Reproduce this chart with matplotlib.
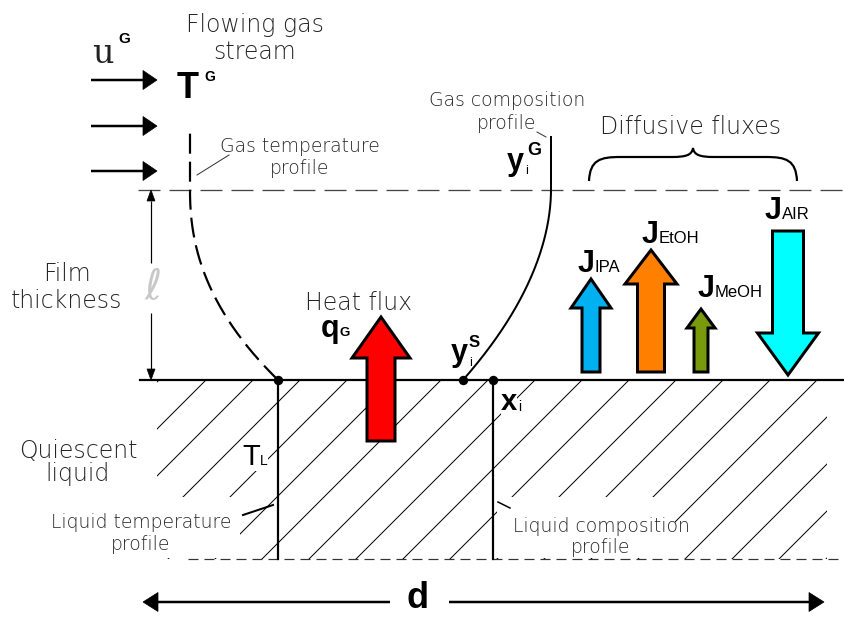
import numpy as np
import matplotlib
matplotlib.use('Agg')
import matplotlib.pyplot as plt
from matplotlib.patches import Polygon, Rectangle, PathPatch
from matplotlib.path import Path

plt.rcParams['lines.scale_dashes'] = False

# --- diagram data (pixel units of the 844x617 canvas, y pointing down) ---
W, H = 844, 617
y_film_top = 190          # outer edge of the gas film
y_interface = 380         # gas / liquid interface
y_liquid_bottom = 559

# diffusive fluxes: name, x position, arrow length (+ up, - down), colours
flux_names = ['IPA', 'EtOH', 'MeOH', 'AIR']
flux_x = [591, 651, 701, 788]
flux_len = [93, 122, 63, -144]
flux_shaft = [18, 27, 14, 31]
flux_head_w = [40, 52, 28, 61]
flux_head_len = [29, 34, 19, 42]
flux_colors = ['#00b0f0', '#ff8000', '#789a0c', '#00ffff']
flux_label_x = [578, 642, 698, 765]
flux_label_y = [272, 243, 297, 219]

# heat flux
heat_x, heat_len = 381, 124
heat_shaft, heat_head_w, heat_head_len = 28, 58, 41

# gas inlet arrows (u^G)
inlet_y = [80, 126, 171]

# profiles: top x, interface x, exponent of the curve
gas_T_profile = (190, 278, 2.2)
gas_y_profile = (551, 463, 1.9)
x_liquid_T = 278
x_liquid_comp = 493

# parts of the hatching left blank behind the labels (x0, x1, y0, y1)
hatch_gaps = [(157, 240, 497, 558), (497, 675, 497, 558)]

CAD = dict(family='DejaVu Sans', fontweight='light', color='#262626')
BOLD = dict(family='Liberation Sans', fontweight='bold', color='black')
REG = dict(family='Liberation Sans', color='black')
MASK = dict(facecolor='white', edgecolor='none', pad=0)


def pt(px):
    # pixels -> points at 100 dpi
    return px * 0.72


def block_arrow(ax, x, base, length, shaft, head_w, head_len, color):
    d = -1 if length > 0 else 1
    tip = base + d * abs(length)
    neck = tip - d * head_len
    pts = [(x - shaft / 2, base), (x - shaft / 2, neck), (x - head_w / 2, neck),
           (x, tip), (x + head_w / 2, neck), (x + shaft / 2, neck), (x + shaft / 2, base)]
    ax.add_patch(Polygon(pts, closed=True, facecolor=color, edgecolor='black',
                         lw=pt(3), joinstyle='miter', zorder=6))


def line_arrow(ax, x0, y0, x1, y1, lw, head_len, head_w, color='black'):
    v = np.array([x1 - x0, y1 - y0], dtype=float)
    u = v / np.hypot(*v)
    n = np.array([-u[1], u[0]])
    base = np.array([x1, y1]) - u * head_len
    ax.plot([x0, base[0]], [y0, base[1]], color=color, lw=lw, solid_capstyle='butt', zorder=5)
    tri = [tuple(base + n * head_w / 2), (x1, y1), tuple(base - n * head_w / 2)]
    ax.add_patch(Polygon(tri, closed=True, facecolor=color, edgecolor=color, lw=0.5, zorder=5))


def profile(x_top, x_int, p, y_start):
    u = np.linspace(0, 1, 200)
    y = y_interface - u * (y_interface - y_film_top)
    x = x_top + (x_int - x_top) * (1 - u) ** p
    x = np.append(x, x_top)
    y = np.append(y, y_start)
    return x, y


fig = plt.figure(figsize=(W / 100, H / 100), dpi=100)
ax = fig.add_axes([0, 0, 1, 1])
ax.set_xlim(0, W)
ax.set_ylim(H, 0)
ax.axis('off')

# hatching of the liquid
clip = Rectangle((157, y_interface), 827 - 157, y_liquid_bottom - y_interface, transform=ax.transData)
depth = y_liquid_bottom - y_interface
for c in np.arange(159, 827 + depth + 47, 47):
    ln, = ax.plot([c, c - depth], [y_interface, y_liquid_bottom], color='black', lw=pt(1), zorder=1)
    ln.set_clip_path(clip)
for x0, x1, y0, y1 in hatch_gaps:
    ax.add_patch(Rectangle((x0, y0), x1 - x0, y1 - y0, facecolor='white', edgecolor='none', zorder=1.5))

# film boundaries
ax.plot([138, W], [y_film_top, y_film_top], color='#444444', lw=pt(1.3), dashes=(pt(22), pt(9)), zorder=2)
ax.plot([140, W], [y_interface, y_interface], color='black', lw=pt(2.2), zorder=4)
ax.plot([188, W], [y_liquid_bottom, y_liquid_bottom], color='#333333', lw=pt(1.2),
        dashes=(pt(10), pt(6)), zorder=2)

# gas profiles
xs, ys = profile(*gas_T_profile, 133)
ax.plot(xs, ys, color='black', lw=pt(2.2), dashes=(pt(20), pt(8)), zorder=4)
xs, ys = profile(*gas_y_profile, 137)
ax.plot(xs, ys, color='black', lw=pt(2), zorder=4)

# liquid profiles
ax.plot([x_liquid_T, x_liquid_T], [y_interface, y_liquid_bottom], color='black', lw=pt(2.2), zorder=4)
ax.plot([x_liquid_comp, x_liquid_comp], [y_interface, y_liquid_bottom], color='black', lw=pt(2.2), zorder=4)
ax.plot([gas_T_profile[1], gas_y_profile[1], x_liquid_comp], [y_interface] * 3, 'o',
        color='black', ms=pt(8), zorder=7)

# leader lines
ax.plot([197, 229], [175, 155], color='#333333', lw=pt(1), zorder=3)
ax.plot([537, 546], [132, 137], color='#333333', lw=pt(1), zorder=3)
ax.plot([243, 273], [515, 505], color='black', lw=pt(2), zorder=4)
ax.plot([498, 510], [502, 508], color='black', lw=pt(1.5), zorder=4)

# inlet arrows
for y in inlet_y:
    line_arrow(ax, 91, y, 157, y, pt(2.5), 14, 19)

# film thickness dimension
line_arrow(ax, 151, 263, 151, y_film_top, pt(1.2), 11, 8)
line_arrow(ax, 151, 313, 151, y_interface, pt(1.2), 11, 8)
ax.text(153, 287, '\u2113', fontsize=30, family=['DejaVu Sans', 'Noto Sans'],
        color='#c8c8c8', ha='center', va='center')

# width d
line_arrow(ax, 390, 602, 143, 602, pt(2.5), 15, 19)
line_arrow(ax, 449, 602, 824, 602, pt(2.5), 15, 19)
ax.text(418, 608, 'd', fontsize=26, ha='center', va='baseline', **BOLD)

# heat flux and diffusive fluxes
block_arrow(ax, heat_x, 441, heat_len, heat_shaft, heat_head_w, heat_head_len, '#ff0000')
for i in range(len(flux_names)):
    base = 372 if flux_len[i] > 0 else 231
    block_arrow(ax, flux_x[i], base, flux_len[i], flux_shaft[i], flux_head_w[i],
                flux_head_len[i], flux_colors[i])
    ax.text(flux_label_x[i], flux_label_y[i], 'J', fontsize=22, ha='left', va='baseline', **BOLD)
    ax.text(flux_label_x[i] + 17, flux_label_y[i], flux_names[i], fontsize=12,
            ha='left', va='baseline', **REG)

# brace over the fluxes
verts = [(589, 181), (590, 160), (600, 157), (620, 157), (672, 157),
         (686, 157), (692, 155), (693, 148),
         (694, 155), (700, 157), (714, 157), (766, 157),
         (786, 157), (796, 160), (797, 181)]
codes = [Path.MOVETO, Path.CURVE4, Path.CURVE4, Path.CURVE4, Path.LINETO,
         Path.CURVE4, Path.CURVE4, Path.CURVE4,
         Path.CURVE4, Path.CURVE4, Path.CURVE4, Path.LINETO,
         Path.CURVE4, Path.CURVE4, Path.CURVE4]
ax.add_patch(PathPatch(Path(verts, codes), facecolor='none', edgecolor='black', lw=pt(2.2)))

# symbols
ax.text(92, 63, 'u', fontsize=24, family='DejaVu Serif', color='#222222', va='baseline')
ax.text(118, 43, 'G', fontsize=11, va='baseline', **BOLD)
ax.text(177, 98, 'T', fontsize=26, va='baseline', **BOLD)
ax.text(204, 81, 'G', fontsize=10, va='baseline', **BOLD)
ax.text(321, 337, 'q', fontsize=22, va='baseline', **BOLD)
ax.text(340, 336, 'G', fontsize=9.5, va='baseline', **BOLD)
ax.text(507, 170, 'y', fontsize=22, va='baseline', **BOLD)
ax.text(527, 155, 'G', fontsize=13, va='baseline', **BOLD)
ax.text(525, 174, 'i', fontsize=9, va='baseline', **REG)
ax.text(451, 361, 'y', fontsize=22, va='baseline', **BOLD)
ax.text(469, 347, 'S', fontsize=12, va='baseline', **BOLD)
ax.text(469, 366, 'i', fontsize=9, va='baseline', **REG)
ax.text(501, 410, 'x', fontsize=21, va='baseline', zorder=5, bbox=MASK, **BOLD)
ax.text(518, 411, 'i', fontsize=10, va='baseline', zorder=6, **REG)
ax.text(242, 465, 'T', fontsize=21, va='baseline', zorder=5, bbox=MASK, **REG)
ax.text(260, 465, 'L', fontsize=10, va='baseline', zorder=6, bbox=MASK, **REG)

# descriptive labels
big = 17
small = 13.5
ax.text(255, 32, 'Flowing gas', fontsize=big, ha='center', va='baseline', **CAD)
ax.text(255, 59, 'stream', fontsize=big, ha='center', va='baseline', **CAD)
ax.text(300, 152, 'Gas temperature', fontsize=small, ha='center', va='baseline', **CAD)
ax.text(300, 174, 'profile', fontsize=small, ha='center', va='baseline', **CAD)
ax.text(507, 106, 'Gas composition', fontsize=small, ha='center', va='baseline', **CAD)
ax.text(507, 129, 'profile', fontsize=small, ha='center', va='baseline', **CAD)
ax.text(691, 134, 'Diffusive fluxes', fontsize=big, ha='center', va='baseline', **CAD)
ax.text(67, 281, 'Film', fontsize=big, ha='center', va='baseline', **CAD)
ax.text(67, 308, 'thickness', fontsize=big, ha='center', va='baseline', **CAD)
ax.text(359, 310, 'Heat flux', fontsize=big, ha='center', va='baseline', **CAD)
ax.text(78, 458, 'Quiescent', fontsize=big, ha='center', va='baseline', **CAD)
ax.text(78, 481, 'liquid', fontsize=big, ha='center', va='baseline', **CAD)
ax.text(141, 528, 'Liquid temperature', fontsize=small, ha='center', va='baseline', zorder=3, **CAD)
ax.text(141, 550, 'profile', fontsize=small, ha='center', va='baseline', zorder=3, **CAD)
ax.text(601, 532, 'Liquid composition', fontsize=small, ha='center', va='baseline', zorder=3, **CAD)
ax.text(601, 553, 'profile', fontsize=small, ha='center', va='baseline', zorder=3, **CAD)

fig.savefig('out.png', dpi=100, facecolor='white')
